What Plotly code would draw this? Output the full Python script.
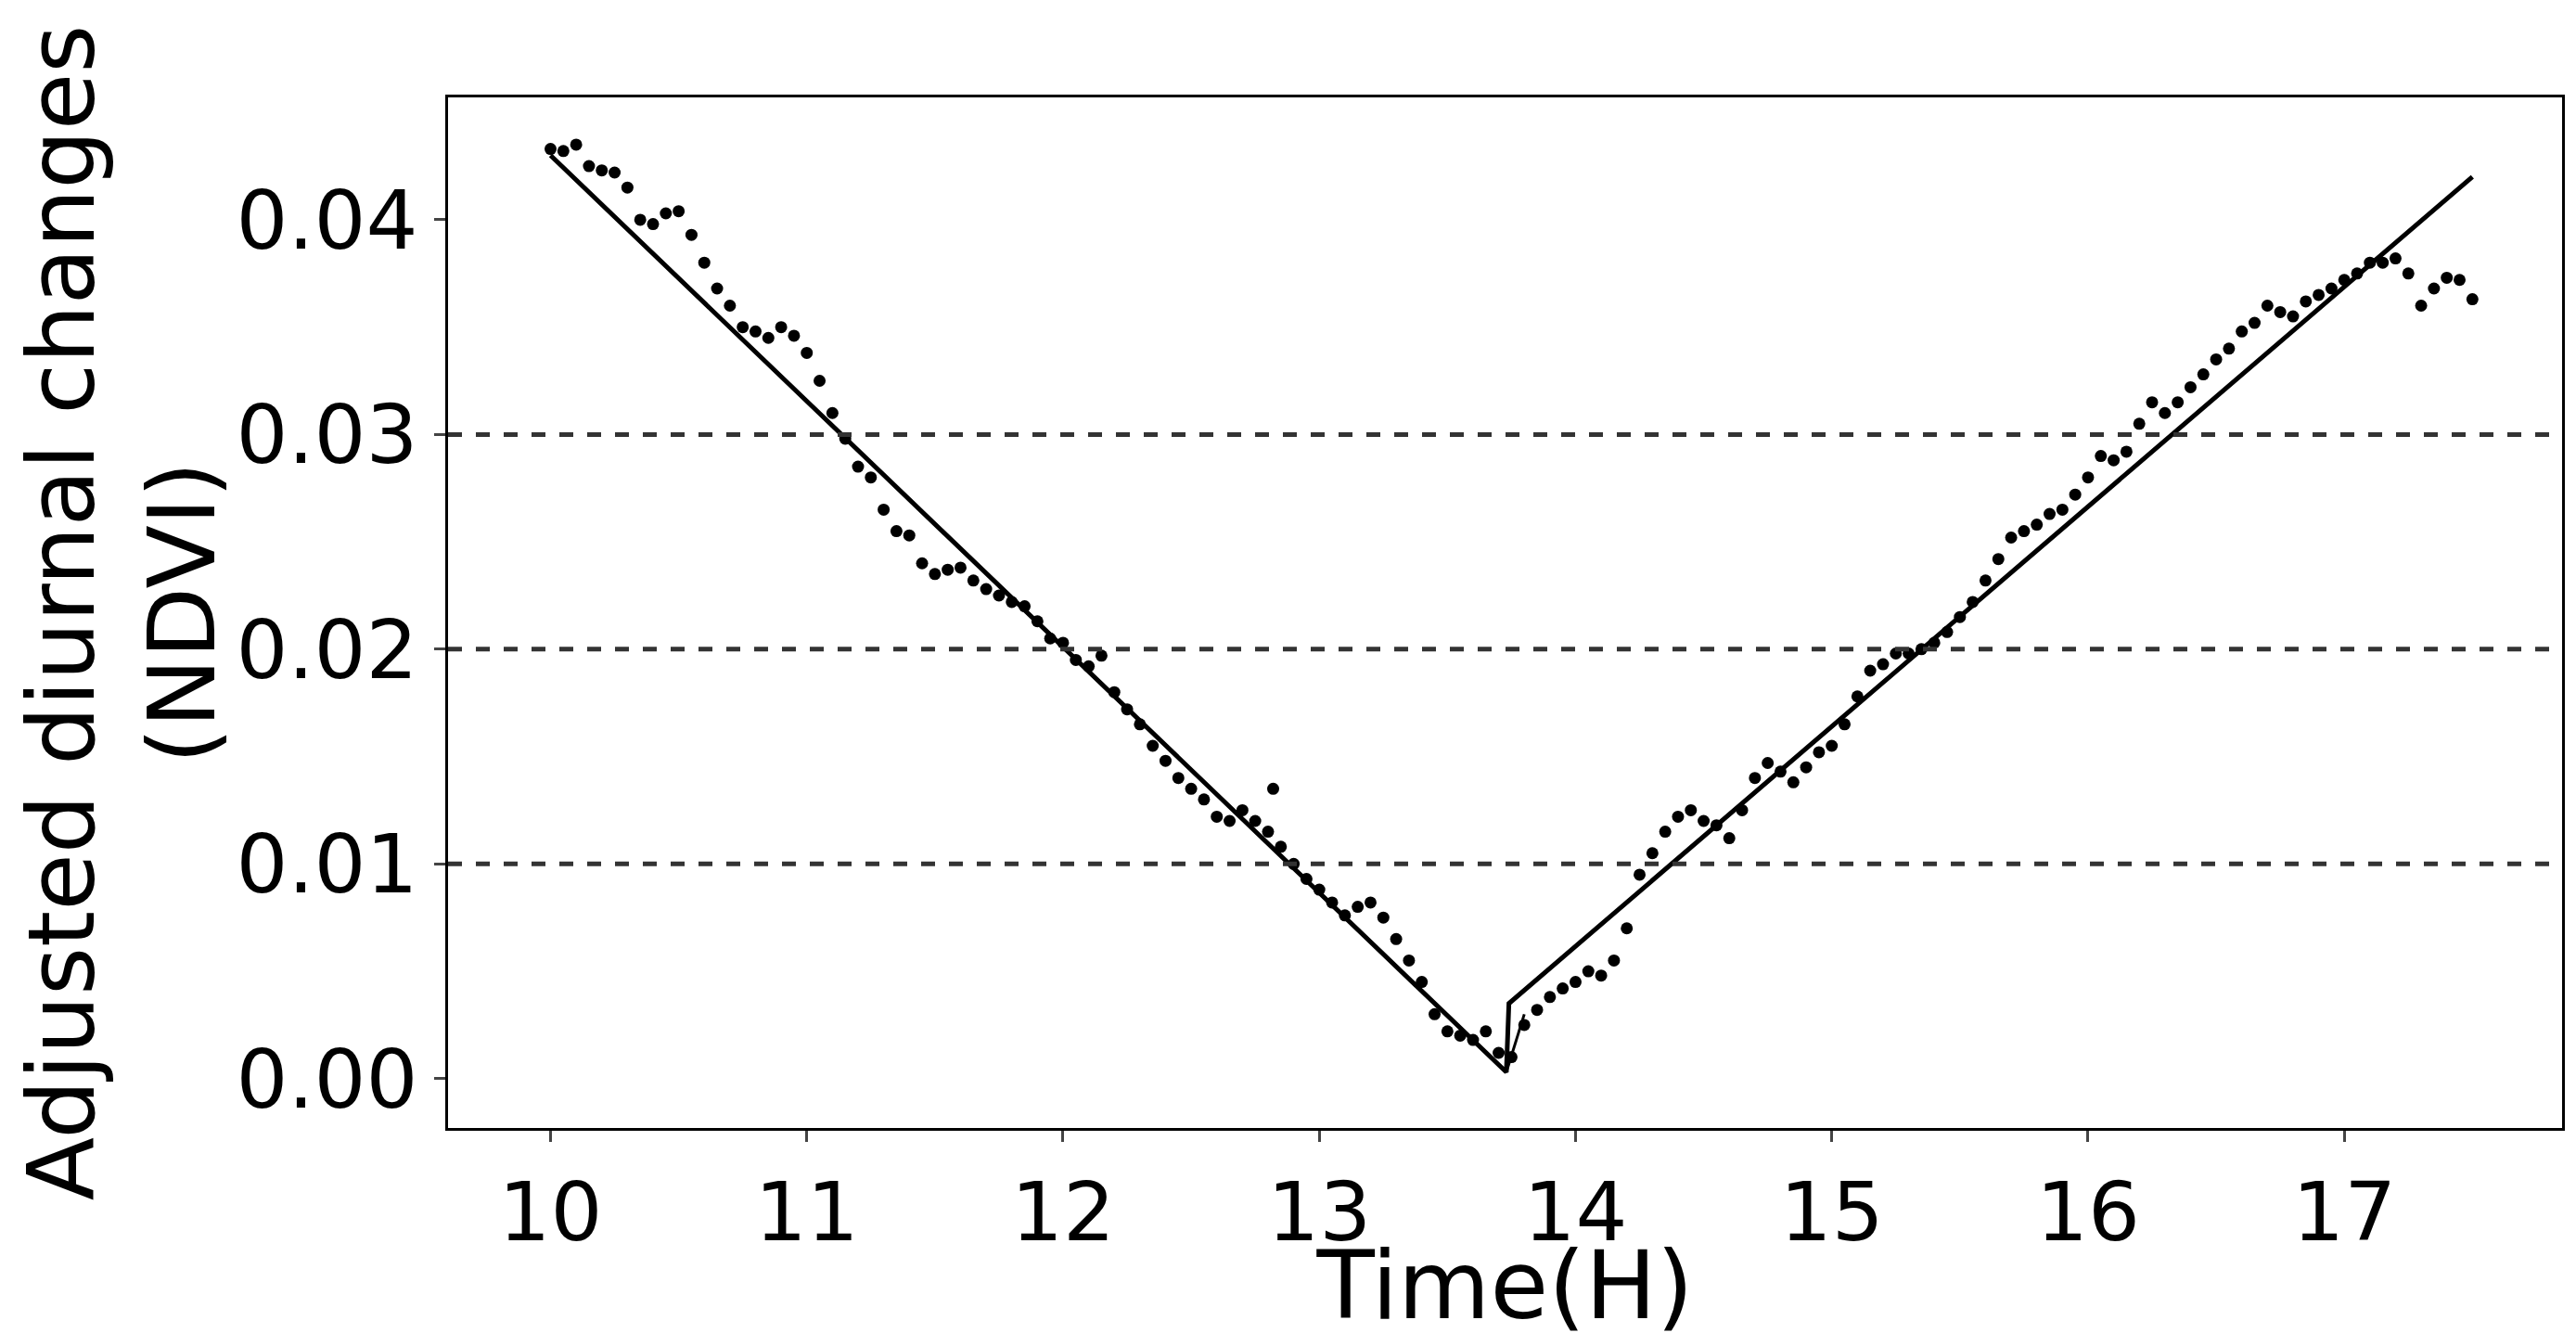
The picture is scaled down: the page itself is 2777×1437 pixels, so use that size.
import plotly.graph_objects as go

t = [10.00,10.05,10.10,10.15,10.20,10.25,10.30,10.35,10.40,10.45,10.50,10.55,10.60,10.65,10.70,10.75,10.80,10.85,10.90,10.95,
     11.00,11.05,11.10,11.15,11.20,11.25,11.30,11.35,11.40,11.45,11.50,11.55,11.60,11.65,11.70,11.75,11.80,11.85,11.90,11.95,
     12.00,12.05,12.10,12.15,12.20,12.25,12.30,12.35,12.40,12.45,12.50,12.55,12.60,12.65,12.70,12.75,12.80,12.82,12.85,12.90,12.95,
     13.00,13.05,13.10,13.15,13.20,13.25,13.30,13.35,13.40,13.45,13.50,13.55,13.60,13.65,13.70,13.75,13.80,13.85,13.90,13.95,
     14.00,14.05,14.10,14.15,14.20,14.25,14.30,14.35,14.40,14.45,14.50,14.55,14.60,14.65,14.70,14.75,14.80,14.85,14.90,14.95,
     15.00,15.05,15.10,15.15,15.20,15.25,15.30,15.35,15.40,15.45,15.50,15.55,15.60,15.65,15.70,15.75,15.80,15.85,15.90,15.95,
     16.00,16.05,16.10,16.15,16.20,16.25,16.30,16.35,16.40,16.45,16.50,16.55,16.60,16.65,16.70,16.75,16.80,16.85,16.90,16.95,
     17.00,17.05,17.10,17.15,17.20,17.25,17.30,17.35,17.40,17.45,17.50]
ndvi = [.0433,.0432,.0435,.0425,.0423,.0422,.0415,.0400,.0398,.0403,.0404,.0393,.0380,.0368,.0360,.0350,.0348,.0345,.0350,.0346,
        .0338,.0325,.0310,.0298,.0285,.0280,.0265,.0255,.0253,.0240,.0235,.0237,.0238,.0232,.0228,.0225,.0222,.0220,.0213,.0205,
        .0203,.0195,.0192,.0197,.0180,.0172,.0165,.0155,.0148,.0140,.0135,.0130,.0122,.0120,.0125,.0120,.0115,.0135,.0108,.0100,.0093,
        .0088,.0082,.0076,.0080,.0082,.0075,.0065,.0055,.0045,.0030,.0022,.0020,.0018,.0022,.0012,.0010,.0025,.0032,.0038,.0042,
        .0045,.0050,.0048,.0055,.0070,.0095,.0105,.0115,.0122,.0125,.0120,.0118,.0112,.0125,.0140,.0147,.0143,.0138,.0145,.0152,
        .0155,.0165,.0178,.0190,.0193,.0198,.0198,.0200,.0203,.0208,.0215,.0222,.0232,.0242,.0252,.0255,.0258,.0263,.0265,.0272,
        .0280,.0290,.0288,.0292,.0305,.0315,.0310,.0315,.0322,.0328,.0335,.0340,.0348,.0352,.0360,.0357,.0355,.0362,.0365,.0368,
        .0372,.0375,.0380,.0380,.0382,.0375,.0360,.0368,.0373,.0372,.0363]

fit_t = [10.0, 13.73, 13.74, 17.5]
fit_v = [0.0430, 0.0003, 0.0035, 0.0420]
fit2_t = [13.73, 13.80]
fit2_v = [0.0003, 0.0030]

grid_levels = [0.01, 0.02, 0.03]
xticks = [10, 11, 12, 13, 14, 15, 16, 17]
yticks = [0.00, 0.01, 0.02, 0.03, 0.04]

fig = go.Figure()
fig.add_trace(go.Scatter(x=t, y=ndvi, mode="markers", marker=dict(color="black", size=13)))
fig.add_trace(go.Scatter(x=fit_t, y=fit_v, mode="lines", line=dict(color="black", width=5)))
fig.add_trace(go.Scatter(x=fit2_t, y=fit2_v, mode="lines", line=dict(color="black", width=3)))
for g in grid_levels:
    fig.add_shape(type="line", xref="paper", x0=0, x1=1, yref="y", y0=g, y1=g,
                  line=dict(color="#333333", width=5, dash="dash"))

fig.update_layout(
    width=2777, height=1437, showlegend=False,
    paper_bgcolor="white", plot_bgcolor="white",
    margin=dict(l=475, r=23, t=97, b=229),
    font=dict(family="DejaVu Sans", color="black", size=88),
    xaxis=dict(range=[9.60, 17.85], tickvals=xticks, ticks="outside", ticklen=12, tickwidth=3,
               showgrid=False, zeroline=False, showline=True, linecolor="black", linewidth=3, mirror=True,
               title=dict(text="Time(H)", font=dict(size=102), standoff=0)),
    yaxis=dict(range=[-0.0023, 0.0457], tickvals=yticks, tickformat=".2f", ticks="outside", ticklen=12, tickwidth=3,
               showgrid=False, zeroline=False, showline=True, linecolor="black", linewidth=3, mirror=True,
               title=dict(text="Adjusted diurnal changes<br>(NDVI)", font=dict(size=100), standoff=15)),
)
fig.write_html("out.html")
